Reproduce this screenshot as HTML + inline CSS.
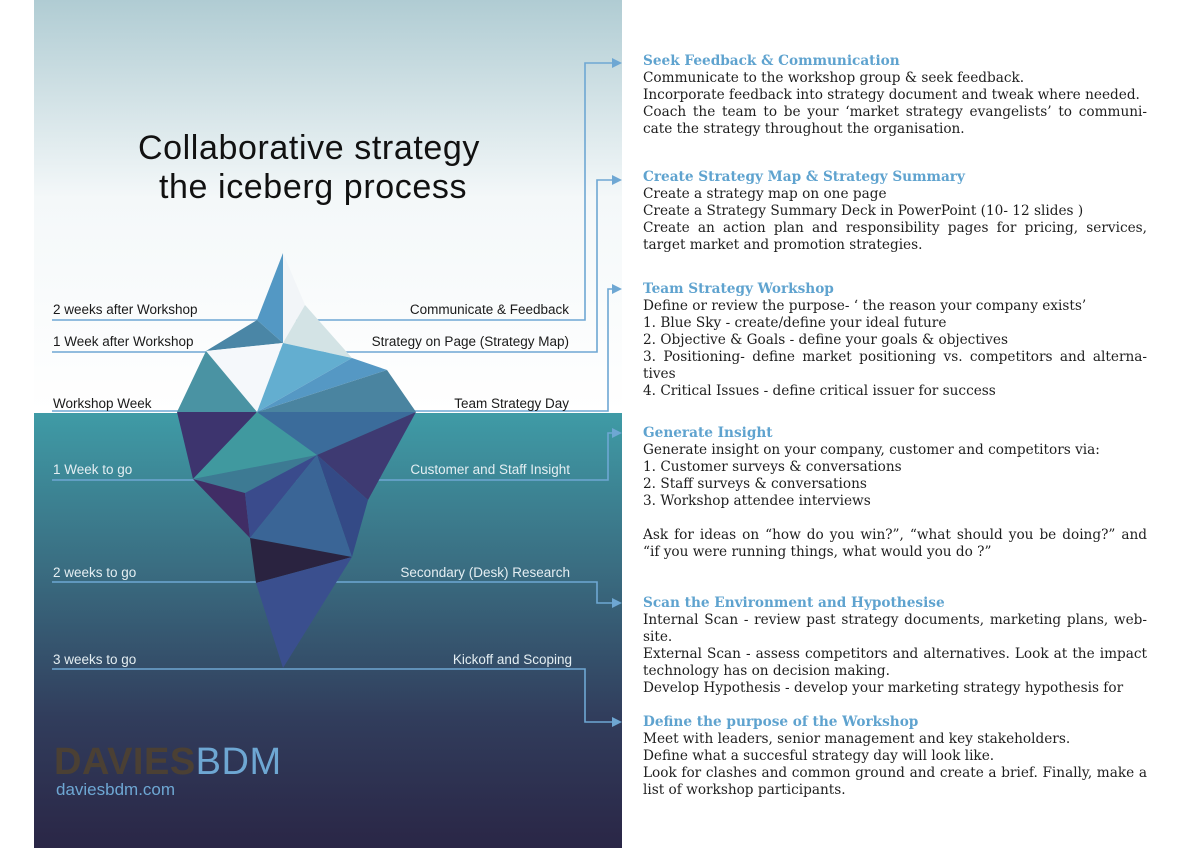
<!DOCTYPE html>
<html><head><meta charset="utf-8"><style>
body{margin:0;width:1200px;height:851px;background:#fff;position:relative;overflow:hidden}
.r{position:absolute;left:643px;width:504px;font-family:"DejaVu Serif","Liberation Serif",serif;font-size:13.65px;color:#1e1e1e;line-height:17px}
.r div{white-space:nowrap}
.r .h{color:#5fa3cf;font-weight:bold}
.r .j{text-align:justify;text-align-last:justify}
</style></head><body>
<svg width="1200" height="851" style="position:absolute;left:0;top:0">
<defs>
<linearGradient id="sky" x1="0" y1="0" x2="0" y2="1"><stop offset="0" stop-color="#b0ccd3"/><stop offset="0.48" stop-color="#f4f8f9"/><stop offset="1" stop-color="#fff"/></linearGradient>
<linearGradient id="sea" x1="0" y1="0" x2="0" y2="1"><stop offset="0" stop-color="#3f9ba6"/><stop offset="0.35" stop-color="#3a6e82"/><stop offset="0.7" stop-color="#313d5c"/><stop offset="1" stop-color="#2a2646"/></linearGradient>
</defs>
<rect x="34" y="0" width="588" height="413" fill="url(#sky)"/>
<rect x="34" y="413" width="588" height="435" fill="url(#sea)"/>
<g stroke="#6ea7d3" stroke-width="1.6" fill="none">
<path d="M52 320H585V63H615"/>
<path d="M52 352H597V180H615"/>
<path d="M52 411H608V289H615"/>
<path d="M52 480H608V433H615"/>
<path d="M52 582H597V603H615"/>
<path d="M52 669H585V722H615"/>
</g>
<g fill="#6ea7d3">
<path d="M612 58L622 63L612 68Z"/><path d="M612 175L622 180L612 185Z"/><path d="M612 284L622 289L612 294Z"/>
<path d="M612 428L622 433L612 438Z"/><path d="M612 598L622 603L612 608Z"/><path d="M612 717L622 722L612 727Z"/>
</g>
<g>
<path d="M283 253L257 320L283 343Z" fill="#5398c4"/>
<path d="M283 253L305 305L283 343Z" fill="#f2f5f8"/>
<path d="M305 305L352 358L283 343Z" fill="#d3e3e5"/>
<path d="M257 320L206 351L283 343Z" fill="#4a86a6"/>
<path d="M206 351L283 343L257 412Z" fill="#f5f8fb"/>
<path d="M206 351L177 412L257 412Z" fill="#4a93a3"/>
<path d="M283 343L352 358L257 412Z" fill="#63aed0"/>
<path d="M352 358L387 370L257 412Z" fill="#5598c4"/>
<path d="M387 370L416 412L257 412Z" fill="#4a84a0"/>
<path d="M177 412L257 412L193 479Z" fill="#3d346e"/>
<path d="M257 412L317 455L193 479Z" fill="#40999f"/>
<path d="M257 412L416 412L317 455Z" fill="#3b6c9b"/>
<path d="M416 412L317 455L368 500Z" fill="#3e3a72"/>
<path d="M193 479L317 455L245 493Z" fill="#3d7a93"/>
<path d="M193 479L245 493L250 538Z" fill="#402d65"/>
<path d="M245 493L317 455L250 538Z" fill="#3a4b8c"/>
<path d="M317 455L368 500L352 557Z" fill="#344a86"/>
<path d="M317 455L352 557L250 538Z" fill="#3a6596"/>
<path d="M250 538L352 557L256 583Z" fill="#2a2340"/>
<path d="M256 583L352 557L283 668Z" fill="#3a4f8e"/>
</g>
<text x="309" y="159" text-anchor="middle" font-family="Liberation Sans,sans-serif" font-size="34" letter-spacing="0.6" fill="#111">Collaborative strategy</text>
<text x="313" y="198" text-anchor="middle" font-family="Liberation Sans,sans-serif" font-size="34" letter-spacing="0.6" fill="#111">the iceberg process</text>
<g font-family="Liberation Sans,sans-serif" font-size="13.5">
<text x="53" y="314" fill="#1a1a1a">2 weeks after Workshop</text>
<text x="53" y="346" fill="#1a1a1a">1 Week after Workshop</text>
<text x="53" y="408" fill="#1a1a1a">Workshop Week</text>
<text x="53" y="474" fill="#e4eef2">1 Week to go</text>
<text x="53" y="577" fill="#e4eef2">2 weeks to go</text>
<text x="53" y="664" fill="#e4eef2">3 weeks to go</text>
<text x="569" y="314" text-anchor="end" fill="#1a1a1a">Communicate &amp; Feedback</text>
<text x="569" y="346" text-anchor="end" fill="#1a1a1a">Strategy on Page (Strategy Map)</text>
<text x="569" y="408" text-anchor="end" fill="#1a1a1a">Team Strategy Day</text>
<text x="570" y="474" text-anchor="end" fill="#e4eef2">Customer and Staff Insight</text>
<text x="570" y="577" text-anchor="end" fill="#e4eef2">Secondary (Desk) Research</text>
<text x="572" y="664" text-anchor="end" fill="#e4eef2">Kickoff and Scoping</text>
</g>
<text x="54" y="774" font-family="Liberation Sans,sans-serif" font-size="38" letter-spacing="0.5"><tspan fill="#4b4034" font-weight="bold">DAVIES</tspan><tspan fill="#6ea7d3">BDM</tspan></text>
<text x="56" y="795" font-family="Liberation Sans,sans-serif" font-size="17" fill="#6ea7d3">daviesbdm.com</text>
</svg>

<div class="r" style="top:53px">
<div class="h">Seek Feedback &amp; Communication</div>
<div>Communicate to the workshop group &amp; seek feedback.</div>
<div>Incorporate feedback into strategy document and tweak where needed.</div>
<div class="j">Coach the team to be your ‘market strategy evangelists’ to communi-</div>
<div>cate the strategy throughout the organisation.</div>
</div>
<div class="r" style="top:169px">
<div class="h">Create Strategy Map &amp; Strategy Summary</div>
<div>Create a strategy map on one page</div>
<div>Create a Strategy Summary Deck in PowerPoint (10- 12 slides )</div>
<div class="j">Create an action plan and responsibility pages for pricing, services,</div>
<div>target market and promotion strategies.</div>
</div>
<div class="r" style="top:281px">
<div class="h">Team Strategy Workshop</div>
<div>Define or review the purpose- ‘ the reason your company exists’</div>
<div>1. Blue Sky - create/define your ideal future</div>
<div>2. Objective &amp; Goals - define your goals &amp; objectives</div>
<div class="j">3. Positioning- define market positioning vs. competitors and alterna-</div>
<div>tives</div>
<div>4. Critical Issues - define critical issuer for success</div>
</div>
<div class="r" style="top:425px">
<div class="h">Generate Insight</div>
<div>Generate insight on your company, customer and competitors via:</div>
<div>1. Customer surveys &amp; conversations</div>
<div>2. Staff surveys &amp; conversations</div>
<div>3. Workshop attendee interviews</div>
<div>&nbsp;</div>
<div class="j">Ask for ideas on “how do you win?”, “what should you be doing?” and</div>
<div>“if you were running things, what would you do ?”</div>
</div>
<div class="r" style="top:595px">
<div class="h">Scan the Environment and Hypothesise</div>
<div class="j">Internal Scan - review past strategy documents, marketing plans, web-</div>
<div>site.</div>
<div class="j">External Scan - assess competitors and alternatives. Look at the impact</div>
<div>technology has on decision making.</div>
<div>Develop Hypothesis - develop your marketing strategy hypothesis for</div>
</div>
<div class="r" style="top:714px">
<div class="h">Define the purpose of the Workshop</div>
<div>Meet with leaders, senior management and key stakeholders.</div>
<div>Define what a succesful strategy day will look like.</div>
<div class="j">Look for clashes and common ground and create a brief. Finally, make a</div>
<div>list of workshop participants.</div>
</div>
</body></html>
